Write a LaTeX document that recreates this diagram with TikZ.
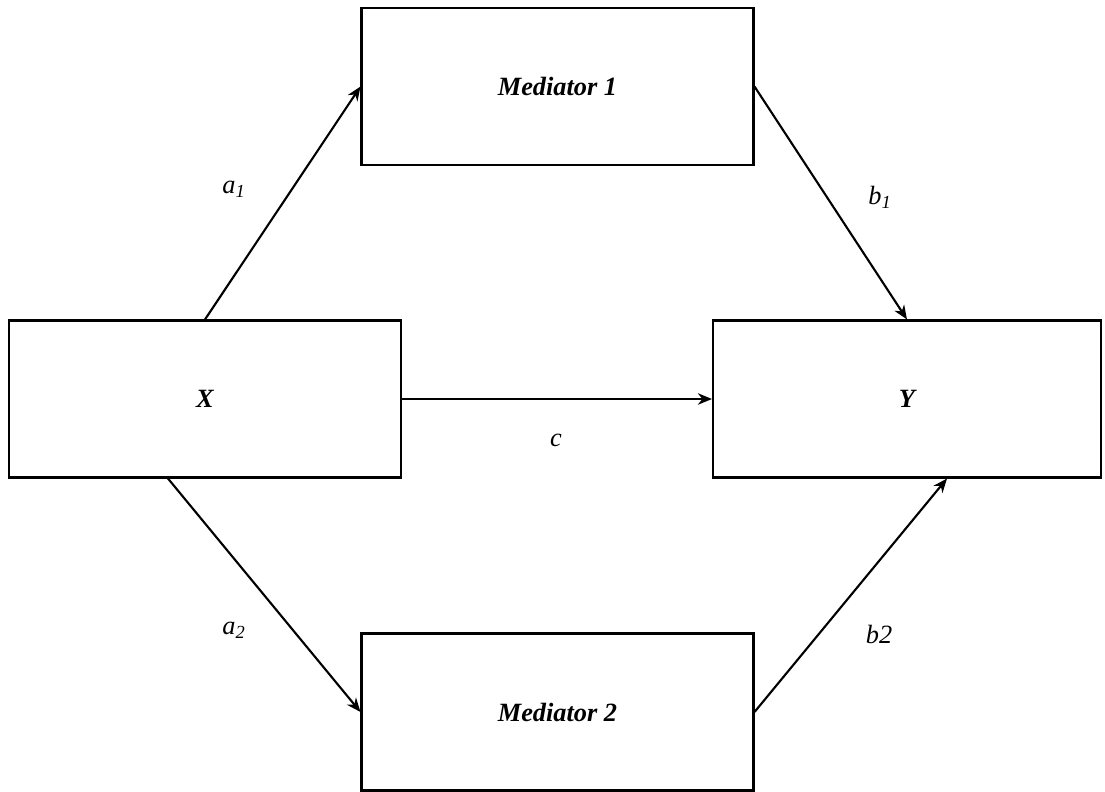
\documentclass[tikz,border=0pt]{standalone}
\usepackage{fontspec}
\setmainfont{Liberation Serif}
\usetikzlibrary{arrows.meta}

\tikzset{
  varbox/.style={draw, line width=1.2pt, minimum width=7.84cm, minimum height=3.14cm,
    font=\fontsize{15}{18}\selectfont\bfseries\itshape},
  path/.style={line width=1.2pt, -{Stealth[length=8pt, width=6.5pt, inset=2.5pt]}},
  coef/.style={font=\fontsize{15}{18}\selectfont\itshape}
}

\begin{document}
\begin{tikzpicture} [x=.02cm, y=-.02cm]
\useasboundingbox (0,0) rectangle (1105,791);
\node[varbox] (M1) at (557.5,86.5) {Mediator 1};
\node[varbox] (X)  at (205,399)    {X};
\node[varbox, minimum width=7.76cm] (Y) at (907,399) {Y};
\node[varbox] (M2) at (557.5,712)  {Mediator 2};

\draw[path] (X.north) -- (M1.west);
\draw[path] (M1.east) -- (Y.north);
\draw[path] ([xshift=-.74cm]X.south) -- (M2.west);
\draw[path] (M2.east) -- ([xshift=.8cm]Y.south);
\draw[path] (X.east) -- (Y.west);

% path labels
\node[coef] (la1) at (234,189) {a\textsubscript{1}};
\node[coef] (lb1) at (880,197) {b\textsubscript{1}};
\node[coef] (la2) at (234,630) {a\textsubscript{2}};
\node[coef] (lb2) at (879,634) {b2};
\node[coef] (lc)  at (556,440) {c};
\end{tikzpicture}
\end{document}
